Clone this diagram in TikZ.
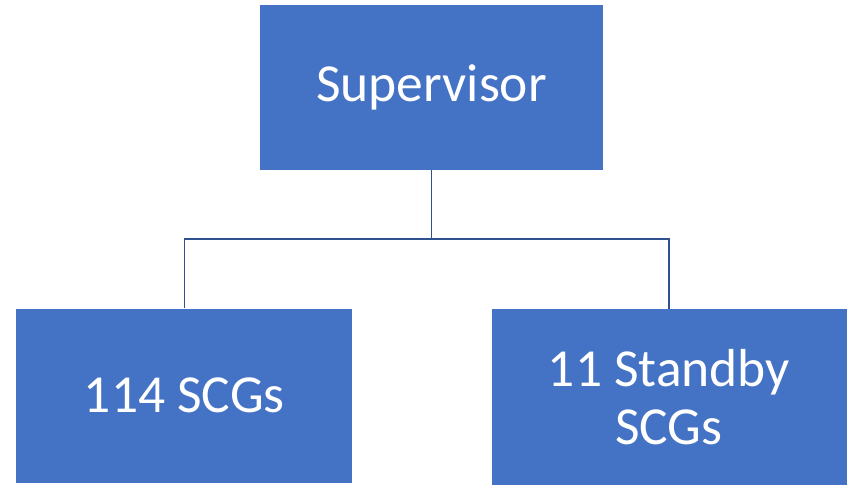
\documentclass[tikz,border=0pt]{standalone}
\usepackage{fontspec}
\setmainfont{Carlito}
\usetikzlibrary{positioning}
\definecolor{boxblue}{RGB}{68,114,196}
\definecolor{lineblue}{RGB}{47,82,143}

\begin{document}
\begin{tikzpicture}[x=1pt,y=1pt]
	\tikzset{box/.style = {shape=rectangle,fill=boxblue,text=white,
			inner sep = 0pt,align=center,
			font=\fontsize{53.5}{58}\selectfont}}
	\tikzset{edge/.style = {draw=lineblue,line width=1.6pt}}
	\useasboundingbox (0,0) rectangle (858,-490);
	
	% boxes
	\node[box,minimum width=343,minimum height=165] (sup) at (431.5,-87.5) {Supervisor};
	\node[box,minimum width=336,minimum height=174] (scg) at (184.3,-395.5) {114 SCGs};
	\node[box,minimum width=355,minimum height=176] (stb) at (669,-397) {11 Standby\\SCGs};
	
	% connectors
	\coordinate (mid) at (431.5,-239);
	\draw[edge] (sup) -- (mid);
	\draw[edge] (mid) -| (scg);
	\draw[edge] (mid) -| (stb);
\end{tikzpicture}
\end{document}
